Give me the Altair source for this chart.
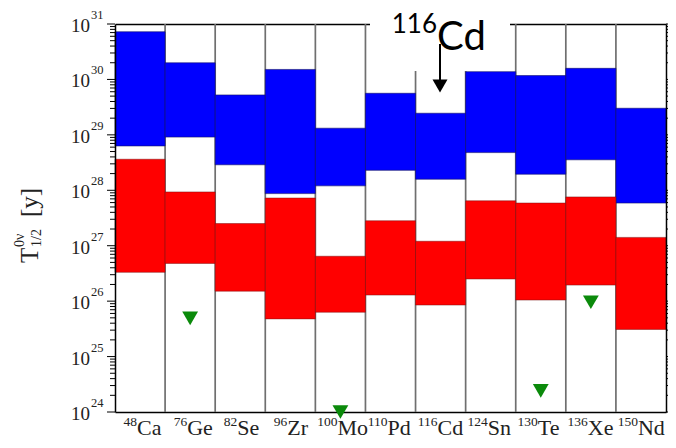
import altair as alt
import pandas as pd

# ---------------- data (log10 of half-life in years) ----------------
symbols = ["Ca", "Ge", "Se", "Zr", "Mo", "Pd", "Cd", "Sn", "Te", "Xe", "Nd"]
masses = ["48", "76", "82", "96", "100", "110", "116", "124", "130", "136", "150"]
ih_top = [30.86, 30.30, 29.72, 30.18, 29.12, 29.75, 29.39, 30.14, 30.07, 30.20, 29.48]
ih_bot = [28.80, 28.96, 28.46, 27.94, 28.08, 28.36, 28.20, 28.68, 28.29, 28.55, 27.77]
nh_top = [28.56, 27.97, 27.40, 27.86, 26.81, 27.45, 27.08, 27.81, 27.77, 27.88, 27.15]
nh_bot = [26.52, 26.68, 26.18, 25.68, 25.80, 26.11, 25.93, 26.40, 26.02, 26.29, 25.49]
limit_iso = ["Ge", "Mo", "Te", "Xe"]
limit_exp = [25.69, 24.0, 24.38, 25.98]
decades = list(range(24, 32))

W, H = 551, 388
SERIF = "Liberation Serif"

n = len(symbols)
bars = pd.DataFrame({
    "iso": symbols,
    "mass": masses,
    "x0": list(range(n)),
    "x1": [i + 1 for i in range(n)],
    "xc": [i + 0.5 for i in range(n)],
    "ih_lo": [10 ** v for v in ih_bot],
    "ih_hi": [10 ** v for v in ih_top],
    "nh_lo": [10 ** v for v in nh_bot],
    "nh_hi": [10 ** v for v in nh_top],
})
seps = pd.DataFrame({"b": list(range(1, n))})
lim = pd.DataFrame({
    "xc": [symbols.index(s) + 0.5 for s in limit_iso],
    "v": [10 ** v for v in limit_exp],
})
maj = pd.DataFrame({"v": [10.0 ** d for d in decades], "e": [str(d) for d in decades]})
minor_vals = [m * 10.0 ** d for d in decades[:-1] for m in range(2, 10)]
mino = pd.DataFrame({"v": minor_vals})

xs = alt.Scale(domain=[0, n], nice=False, zero=False)
ys = alt.Scale(type="log", domain=[1e24, 1e31], nice=False)

def ax(orient, z=1):
    return alt.Axis(orient=orient, title=None, labels=False, ticks=False, grid=False,
                    domain=True, domainColor="black", domainWidth=1.5, zindex=z)

# separator lines between isotopes (also carries the bottom axis)
sep = alt.Chart(seps).mark_rule(color="#6f6f6f", strokeWidth=1.7).encode(
    x=alt.X("b:Q", scale=xs, axis=ax("bottom", 0)),
    y=alt.value(0), y2=alt.value(H),
)

blue = alt.Chart(bars).mark_rect(color="#0000ff", stroke="#10106a", strokeWidth=0.6).encode(
    x=alt.X("x0:Q", scale=xs, axis=ax("top", 0)),
    x2="x1:Q",
    y=alt.Y("ih_lo:Q", scale=ys, axis=ax("left", 1)),
    y2="ih_hi:Q",
)
red = alt.Chart(bars).mark_rect(color="#ff0000", stroke="#7a1010", strokeWidth=0.5).encode(
    x=alt.X("x0:Q", scale=xs, axis=None),
    x2="x1:Q",
    y=alt.Y("nh_lo:Q", scale=ys, axis=ax("right", 1)),
    y2="nh_hi:Q",
)

# white patch behind the 116Cd annotation (breaks the frame)
dummy = pd.DataFrame({"t": ["116"]})
patch = alt.Chart(dummy).mark_rect(color="white").encode(
    x=alt.value(255), x2=alt.value(395), y=alt.value(-16), y2=alt.value(47)
)

# axis ticks (both sides)
def ticks(df, x1, x2):
    return alt.Chart(df).mark_rule(color="black", strokeWidth=1).encode(
        y=alt.Y("v:Q", scale=ys, axis=None), x=alt.value(x1), x2=alt.value(x2)
    )

tk = [ticks(maj, -8, 0), ticks(mino, -5, 0), ticks(maj, W, W + 8), ticks(mino, W, W + 5)]

# y tick labels 10^k
ylab10 = alt.Chart(maj).mark_text(align="right", baseline="middle", font=SERIF,
                                  fontSize=19, color="#222", dy=2).encode(
    y=alt.Y("v:Q", scale=ys, axis=None), x=alt.value(-25), text=alt.value("10"))
ylabe = alt.Chart(maj).mark_text(align="left", baseline="middle", font=SERIF,
                                 fontSize=12.5, color="#222", dy=-9).encode(
    y=alt.Y("v:Q", scale=ys, axis=None), x=alt.value(-24), text="e:N")

# x labels: superscript mass number + element symbol
xsup = alt.Chart(bars).mark_text(align="right", baseline="alphabetic", font=SERIF,
                                 fontSize=13.5, color="#222", dx=-3).encode(
    x=alt.X("xc:Q", scale=xs, axis=None), y=alt.value(402), text="mass:N")
xsym = alt.Chart(bars).mark_text(align="left", baseline="alphabetic", font=SERIF,
                                 fontSize=22, color="#222", dx=-3).encode(
    x=alt.X("xc:Q", scale=xs, axis=None), y=alt.value(411), text="iso:N")

# experimental limits
tri = alt.Chart(lim).mark_point(shape="triangle-down", filled=True, size=250,
                                color="#0b8a0b", opacity=1).encode(
    x=alt.X("xc:Q", scale=xs, axis=None), y=alt.Y("v:Q", scale=ys, axis=None))

# y-axis title pieces (rotated)
def ttl(txt, x, y, size):
    return alt.Chart(pd.DataFrame({"t": [txt]})).mark_text(
        align="left", baseline="alphabetic", angle=270, font=SERIF, fontSize=size, color="#222"
    ).encode(x=alt.value(x), y=alt.value(y), text="t:N")

title = [ttl("T", -77, 239, 25), ttl("0\u03bd", -91, 223, 14), ttl("1/2", -74, 223, 14),
         ttl("[y]", -77, 193, 25)]

# 116Cd annotation with arrow
ann1 = alt.Chart(dummy).mark_text(align="right", baseline="alphabetic", font="Lato",
                                  fontSize=26, color="black").encode(
    x=alt.value(322), y=alt.value(9), text="t:N")
ann2 = alt.Chart(pd.DataFrame({"t": ["Cd"]})).mark_text(align="left", baseline="alphabetic",
                                                       font="Lato", fontSize=40, color="black").encode(
    x=alt.value(322), y=alt.value(26), text="t:N")
arr = alt.Chart(dummy).mark_rule(color="black", strokeWidth=2).encode(
    x=alt.value(325), y=alt.value(20), y2=alt.value(57))
head = alt.Chart(dummy).mark_point(shape="triangle-down", filled=True, size=225,
                                   color="black", opacity=1).encode(
    x=alt.value(325), y=alt.value(62))

chart = alt.layer(
    sep, blue, red, patch, *tk, ylab10, ylabe, xsup, xsym, tri, *title, ann1, ann2, arr, head
).resolve_axis(x="independent", y="independent").properties(
    width=W, height=H, autosize="none",
    padding={"left": 107, "top": 16, "right": 2, "bottom": 28},
).configure_view(stroke=None)

chart.save("out.html", embed_options={"renderer": "svg", "actions": False})
